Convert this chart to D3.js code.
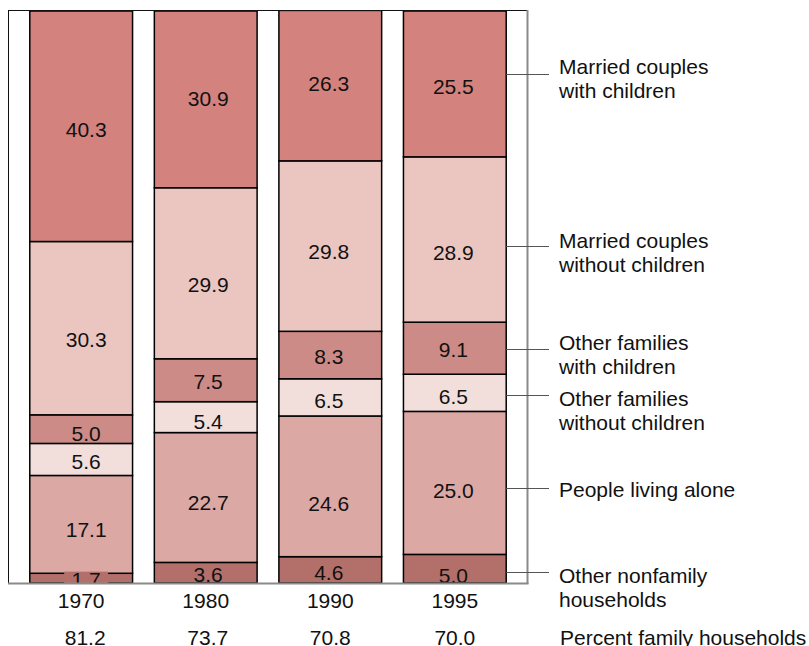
<!DOCTYPE html>
<html>
<head>
<meta charset="utf-8">
<script src="https://cdn.jsdelivr.net/npm/d3@7"></script>
<style>
  body { margin: 0; background: #fff; }
  text { font-family: "Liberation Sans", Arial, sans-serif; fill: #111; }
</style>
</head>
<body>
<svg id="chart" width="809" height="646"></svg>
<script>
// household composition, percent of all households
var years = ["1970", "1980", "1990", "1995"];
var keys = ["nonfam", "alone", "otherNoKids", "otherKids", "marriedNoKids", "marriedKids"];

var nonfamilyOther = [1.7, 3.6, 4.6, 5.0];
var livingAlone = [17.1, 22.7, 24.6, 25.0];
var otherNoKids = [5.6, 5.4, 6.5, 6.5];
var otherKids = [5.0, 7.5, 8.3, 9.1];
var marriedNoKids = [30.3, 29.9, 29.8, 28.9];
var marriedKids = [40.3, 30.9, 26.3, 25.5];

var familyPct = ["81.2", "73.7", "70.8", "70.0"];

var legendText = [
  ["Other nonfamily", "households"],
  ["People living alone"],
  ["Other families", "without children"],
  ["Other families", "with children"],
  ["Married couples", "without children"],
  ["Married couples", "with children"]
];

var colors = ["#b3706b", "#dca8a4", "#f2dfdc", "#cc8b87", "#ebc6c0", "#d3827d"];

// small hand offsets so the labels sit where the original put them
var labelDy = {
  "1970": [1.5, 5, 2.5, 5, 11, 3.7],
  "1980": [2, 5, 5, 1, 11, -1],
  "1990": [3, 17, 3, 2, 6, -2],
  "1995": [6.6, 7.4, 3.5, 1, 13, 3]
};
var labelDx = [5, 2.5, -1.5, -1.5];
var leaderDy = [3, 4.8, 2.2, 1.1, 6.5, -9.7];
var legendDy = [10, 8, 10.7, 0.7, 1.7, -1];

var table = years.map(function(yr, i) {
  return {
    year: yr,
    nonfam: nonfamilyOther[i], alone: livingAlone[i], otherNoKids: otherNoKids[i],
    otherKids: otherKids[i], marriedNoKids: marriedNoKids[i], marriedKids: marriedKids[i]
  };
});

var svg = d3.select("#chart");
var plotL = 8, plotR = 528, plotT = 11, plotB = 583;

var x = d3.scaleBand().domain(years).range([plotL, plotR]).paddingInner(0.175).paddingOuter(0.175);
var y = d3.scaleLinear().domain([0, 100]).range([plotB, plotT]);

var series = d3.stack().keys(keys)(table);

svg.append("clipPath").attr("id", "plotclip")
  .append("rect").attr("x", plotL).attr("y", plotT).attr("width", plotR - plotL).attr("height", plotB - plotT);

var plot = svg.append("g").attr("clip-path", "url(#plotclip)");

var layers = plot.selectAll(".layer")
  .data(series)
  .enter().append("g")
    .attr("class", "layer")
    .attr("fill", function(d, i) { return colors[i]; });

layers.selectAll("rect")
  .data(function(d) { return d; })
  .enter().append("rect")
    .attr("x", function(d) { return x(d.data.year); })
    .attr("y", function(d) { return y(d[1]); })
    .attr("width", x.bandwidth())
    .attr("height", function(d) { return y(d[0]) - y(d[1]); })
    .attr("stroke", "#000")
    .attr("stroke-width", 1.5);

// value labels
series.forEach(function(s, si) {
  s.forEach(function(d, yi) {
    var yr = d.data.year;
    var cx = x(yr) + x.bandwidth() / 2 + labelDx[yi];
    var cy = (y(d[0]) + y(d[1])) / 2 + labelDy[yr][si];
    var txt = d3.format(".1f")(d[1] - d[0]);
    if (yr == "1970" && si == 0) {
      // the 1.7 label gets a little backing box over the segment edge
      plot.append("rect")
        .attr("x", cx - 22).attr("y", cy - 8)
        .attr("width", 44).attr("height", 17)
        .attr("fill", colors[0]);
    }
    plot.append("text")
      .attr("x", cx).attr("y", cy).attr("dy", "0.35em")
      .attr("text-anchor", "middle")
      .style("font-size", "21px")
      .text(txt);
  });
});

// frame
svg.append("line").attr("x1", plotL + 0.5).attr("x2", plotL + 0.5).attr("y1", plotT - 0.5).attr("y2", plotB)
  .attr("stroke", "#111").attr("stroke-width", 1);
svg.append("line").attr("x1", plotL).attr("x2", plotR).attr("y1", plotT - 0.5).attr("y2", plotT - 0.5)
  .attr("stroke", "#111").attr("stroke-width", 1);
svg.append("line").attr("x1", plotR - 0.5).attr("x2", plotR - 0.5).attr("y1", plotT - 1).attr("y2", plotB + 1)
  .attr("stroke", "#8a8a8a").attr("stroke-width", 2);
svg.append("line").attr("x1", plotL).attr("x2", plotR + 0.5).attr("y1", plotB + 0.5).attr("y2", plotB + 0.5)
  .attr("stroke", "#8a8a8a").attr("stroke-width", 2);

// year axis
svg.selectAll(".year")
  .data(years)
  .enter().append("text")
    .attr("class", "year")
    .attr("x", function(d) { return x(d) + x.bandwidth() / 2; })
    .attr("y", 608)
    .attr("text-anchor", "middle")
    .style("font-size", "21px")
    .text(function(d) { return d; });

svg.selectAll(".pct")
  .data(familyPct)
  .enter().append("text")
    .attr("class", "pct")
    .attr("x", function(d, i) { return x(years[i]) + x.bandwidth() / 2 + Math.max(labelDx[i], 0) * 0.8; })
    .attr("y", 645)
    .attr("text-anchor", "middle")
    .style("font-size", "21px")
    .text(function(d) { return d; });

svg.append("text")
  .attr("x", 560).attr("y", 645)
  .style("font-size", "21px")
  .text("Percent family households");

// leader lines + labels off the 1995 bar
var last = years[years.length - 1];
var barEnd = x(last) + x.bandwidth();
series.forEach(function(s, si) {
  var d = s[s.length - 1];
  var ly = Math.round((y(d[0]) + y(d[1])) / 2 + leaderDy[si]) + 0.5;
  svg.append("line")
    .attr("x1", barEnd).attr("x2", 549)
    .attr("y1", ly).attr("y2", ly)
    .attr("stroke", "#555").attr("stroke-width", 1.2);
  var t = svg.append("text")
    .attr("x", 559).attr("y", ly + legendDy[si])
    .style("font-size", "21px");
  legendText[si].forEach(function(line, li) {
    t.append("tspan").attr("x", 559).attr("dy", li == 0 ? 0 : 24).text(line);
  });
});
</script>
</body>
</html>
